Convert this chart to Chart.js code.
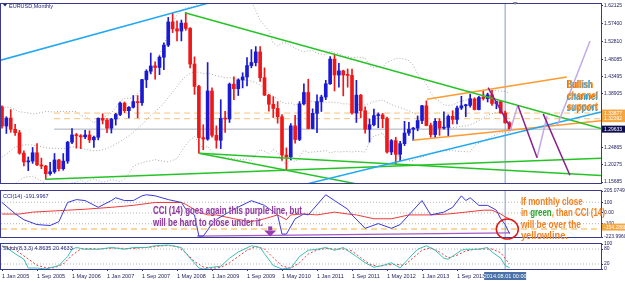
<!DOCTYPE html>
<html>
<head>
<meta charset="utf-8">
<script src="https://cdn.jsdelivr.net/npm/chart.js@4.4.0/dist/chart.umd.min.js"></script>
<style>
html, body { margin: 0; padding: 0; background: #fff; }
#wrap { position: relative; width: 625px; height: 282px; overflow: hidden; background: #fff; }
#wrap canvas { position: absolute; left: 0; }
</style>
</head>
<body>
<div id="wrap">
  <canvas id="priceChart" width="625" height="187" style="top:0"></canvas>
  <canvas id="cciChart" width="625" height="55" style="top:187px"></canvas>
  <canvas id="stochChart" width="625" height="42" style="top:240px"></canvas>
</div>
<script>
// monthly EURUSD, index 0 = Jan 2005 ... 116 = Sep 2014
const opens = [1.3554,1.3045,1.3255,1.2960,1.2870,1.2330,1.2100,1.2120,1.2340,1.2020,1.1990,1.1790,
  1.1840,1.2150,1.1920,1.2120,1.2620,1.2810,1.2790,1.2760,1.2810,1.2680,1.2750,1.3250,
  1.3200,1.2990,1.3230,1.3350,1.3650,1.3450,1.3540,1.3690,1.3660,1.4270,1.4490,1.4630,
  1.4590,1.4860,1.5180,1.5790,1.5610,1.5550,1.5760,1.5620,1.4680,1.4090,1.2740,1.2700,
  1.3970,1.2800,1.2670,1.3250,1.3230,1.4150,1.4030,1.4260,1.4340,1.4640,1.4720,1.5000,
  1.4320,1.3860,1.3620,1.3510,1.3290,1.2280,1.2230,1.3050,1.2690,1.3630,1.3930,1.2980,
  1.3380,1.3690,1.3810,1.4160,1.4810,1.4390,1.4500,1.4390,1.4380,1.3390,1.3860,1.3450,
  1.2960,1.3080,1.3320,1.3340,1.3240,1.2360,1.2660,1.2300,1.2580,1.2860,1.2960,1.2990,
  1.3190,1.3580,1.3060,1.2820,1.3170,1.2990,1.3010,1.3300,1.3220,1.3520,1.3580,1.3590,
  1.3760,1.3480,1.3800,1.3770,1.3870,1.3640,1.3690,1.3390,1.3130];
const highs = [1.3580,1.3290,1.3480,1.3090,1.2930,1.2390,1.2230,1.2480,1.2580,1.2200,1.2010,1.2090,
  1.2320,1.2170,1.2320,1.2640,1.2980,1.2850,1.2820,1.2930,1.2920,1.2780,1.3260,1.3370,
  1.3240,1.3250,1.3380,1.3680,1.3680,1.3560,1.3850,1.3850,1.4280,1.4530,1.4970,1.4740,
  1.4900,1.5240,1.5910,1.6020,1.5820,1.5840,1.6040,1.5640,1.4870,1.4120,1.3080,1.4720,
  1.4050,1.3050,1.3740,1.3430,1.4180,1.4340,1.4290,1.4450,1.4850,1.5060,1.5140,1.5140,
  1.4580,1.3880,1.3820,1.3690,1.3350,1.2470,1.3110,1.3330,1.3690,1.4160,1.4280,1.3500,
  1.3870,1.3860,1.4250,1.4880,1.4940,1.4700,1.4520,1.4550,1.4550,1.4250,1.3880,1.3550,
  1.3230,1.3490,1.3390,1.3380,1.3280,1.2690,1.2750,1.2640,1.3170,1.3140,1.3010,1.3310,
  1.3590,1.3710,1.3120,1.3240,1.3240,1.3420,1.3340,1.3450,1.3570,1.3830,1.3620,1.3890,
  1.3790,1.3830,1.3970,1.3910,1.3990,1.3700,1.3700,1.3440,1.3160];
const lows = [1.2990,1.2850,1.2880,1.2800,1.2300,1.1990,1.1870,1.2060,1.2000,1.1920,1.1640,1.1750,
  1.1800,1.1860,1.1880,1.2060,1.2580,1.2460,1.2450,1.2710,1.2610,1.2480,1.2680,1.3100,
  1.2870,1.2860,1.3070,1.3320,1.3400,1.3260,1.3520,1.3260,1.3590,1.4060,1.4420,1.4280,
  1.4400,1.4530,1.5140,1.5510,1.5290,1.5290,1.5570,1.4580,1.3880,1.2330,1.2420,1.2670,
  1.2750,1.2460,1.2450,1.2880,1.3140,1.3740,1.3850,1.4050,1.4100,1.4580,1.4630,1.4220,
  1.3850,1.3440,1.3270,1.3120,1.2140,1.1880,1.2150,1.2590,1.2660,1.3600,1.2970,1.2970,
  1.2870,1.3430,1.3740,1.4140,1.3970,1.4070,1.3840,1.4070,1.3360,1.3140,1.3260,1.2860,
  1.2620,1.3050,1.3000,1.3000,1.2330,1.2290,1.2040,1.2130,1.2530,1.2800,1.2660,1.2920,
  1.3110,1.3050,1.2750,1.2740,1.2800,1.2960,1.2760,1.3100,1.3100,1.3480,1.3290,1.3540,
  1.3470,1.3470,1.3730,1.3680,1.3590,1.3500,1.3380,1.3120,1.2920];
const closes = [1.3045,1.3255,1.2960,1.2870,1.2330,1.2100,1.2120,1.2340,1.2020,1.1990,1.1790,1.1840,
  1.2150,1.1920,1.2120,1.2620,1.2810,1.2790,1.2760,1.2810,1.2680,1.2750,1.3250,1.3200,
  1.2990,1.3230,1.3350,1.3650,1.3450,1.3540,1.3690,1.3660,1.4270,1.4490,1.4630,1.4590,
  1.4860,1.5180,1.5790,1.5610,1.5550,1.5760,1.5620,1.4680,1.4090,1.2740,1.2700,1.3970,
  1.2800,1.2670,1.3250,1.3230,1.4150,1.4030,1.4260,1.4340,1.4640,1.4720,1.5000,1.4320,
  1.3860,1.3620,1.3510,1.3290,1.2280,1.2230,1.3050,1.2690,1.3630,1.3930,1.2980,1.3380,
  1.3690,1.3810,1.4160,1.4810,1.4390,1.4500,1.4390,1.4380,1.3390,1.3860,1.3450,1.2960,
  1.3080,1.3320,1.3340,1.3240,1.2360,1.2660,1.2300,1.2580,1.2860,1.2960,1.2990,1.3190,
  1.3580,1.3060,1.2820,1.3170,1.2990,1.3010,1.3300,1.3220,1.3520,1.3580,1.3590,1.3760,
  1.3480,1.3800,1.3770,1.3870,1.3640,1.3690,1.3390,1.3130,1.2963];

// dotted bands
const bandUpper = [1.349,1.355,1.353,1.347,1.342,1.341,1.339,1.336,1.338,1.340,1.343,1.342,
  1.342,1.343,1.343,1.343,1.343,1.343,1.331,1.331,1.322,1.313,1.320,1.328,
  1.331,1.339,1.353,1.370,1.377,1.378,1.378,1.390,1.408,1.430,1.453,1.470,
  1.493,1.518,1.550,1.575,1.598,1.610,1.616,1.618,1.620,1.632,1.640,1.638,
  1.645,1.648,1.646,1.645,1.643,1.641,1.639,1.636,1.634,1.633,1.609,1.583,
  1.570,1.556,1.523,1.516,1.523,1.524,1.516,1.510,1.504,1.500,1.503,1.503,
  1.497,1.494,1.492,1.502,1.497,1.496,1.488,1.489,1.485,1.486,1.485,1.484,
  1.464,1.459,1.461,1.459,1.473,1.477,1.483,1.483,1.481,1.477,1.465,1.441,
  1.431,1.414,1.392,1.376,1.370,1.360,1.359,1.360,1.366,1.370,1.373,1.379,
  1.373,1.379,1.386,1.393,1.397,1.398,1.396,1.396,1.391];
const bandMiddle = [1.222,1.231,1.239,1.249,1.252,1.255,1.255,1.254,1.252,1.250,1.247,1.246,
  1.246,1.245,1.245,1.247,1.249,1.250,1.247,1.243,1.241,1.239,1.240,1.242,
  1.245,1.251,1.257,1.264,1.271,1.279,1.288,1.297,1.308,1.321,1.333,1.343,
  1.353,1.365,1.380,1.394,1.409,1.424,1.436,1.443,1.448,1.446,1.443,1.444,
  1.441,1.437,1.435,1.432,1.432,1.430,1.428,1.426,1.425,1.423,1.419,1.413,
  1.404,1.393,1.383,1.376,1.367,1.364,1.366,1.360,1.364,1.370,1.369,1.370,
  1.367,1.366,1.366,1.368,1.367,1.366,1.363,1.363,1.361,1.362,1.361,1.360,
  1.364,1.369,1.371,1.373,1.367,1.361,1.357,1.353,1.349,1.345,1.339,1.331,
  1.327,1.320,1.312,1.306,1.304,1.300,1.299,1.300,1.302,1.304,1.305,1.308,
  1.313,1.319,1.326,1.333,1.337,1.340,1.342,1.342,1.339];
const bandLower = [1.095,1.107,1.125,1.151,1.162,1.169,1.171,1.172,1.166,1.160,1.151,1.150,
  1.150,1.147,1.147,1.151,1.155,1.156,1.163,1.155,1.161,1.165,1.160,1.156,
  1.159,1.163,1.161,1.158,1.165,1.179,1.198,1.204,1.208,1.211,1.213,1.216,
  1.213,1.212,1.210,1.214,1.219,1.237,1.255,1.268,1.277,1.260,1.245,1.251,
  1.237,1.225,1.223,1.220,1.221,1.218,1.216,1.217,1.217,1.213,1.229,1.242,
  1.238,1.231,1.243,1.236,1.211,1.204,1.216,1.210,1.224,1.240,1.235,1.236,
  1.237,1.238,1.240,1.234,1.237,1.236,1.237,1.237,1.236,1.238,1.237,1.236,
  1.264,1.279,1.281,1.287,1.261,1.245,1.231,1.223,1.217,1.213,1.213,1.221,
  1.223,1.226,1.232,1.236,1.238,1.240,1.239,1.240,1.238,1.237,1.237,1.236,
  1.253,1.259,1.266,1.272,1.276,1.282,1.288,1.288,1.287];

// drawn objects: [month, price] end points
const cyanUpper = [[-0.46, 1.4776], [50, 1.6378]];
const cyanLower = [[67, 1.1443], [136.9, 1.3416]];
const greenTop = [[41.8, 1.6033], [136.9, 1.2980]];
const greenMid = [[45, 1.2330], [136.9, 1.1738]];
const greenSteep = [[45, 1.2330], [85, 1.1430]];
const greenLow = [[10, 1.1640], [136.9, 1.2194]];
const orangeUpper = [[97.1, 1.3749], [129.1, 1.4340]];
const orangeLower = [[93.9, 1.2672], [136.9, 1.3185]];
const levelLines = [1.33877, 1.32392];
const bidPrice = 1.29633;
const levelStart = 11.9;
const zigDark = [[[111.1, 1.4057], [116.1, 1.3031]], [[117.9, 1.3596], [122.3, 1.2210]], [[123.7, 1.3365], [129.8, 1.1748]]];
const zigLight = [[[116.1, 1.2903], [117.9, 1.3596]], [[122.3, 1.2210], [124.6, 1.3313]], [[126.9, 1.3057], [134.4, 1.5289]]];
const cursorMonth = 115;

// indicator readings [month], [value]
const cciBlueM = [0,3,5,8,11,13,15,17,19,22,25,26,28,30,32,33,35,38,41,42,44,45,46,47,48,49,53,57,60,63,64,65,67,69,70,74,76,79,80,83,86,89,91,93,96,98,101,103,105,106,107,109,111,113,114,115,116];
const cciBlueV = [98,-7,-63,-108,-117,-81,98,125,116,53,116,142,116,116,160,170,160,125,98,36,-18,-215,-215,-160,-100,-60,35,115,71,-18,-197,-197,-54,-9,-18,170,116,36,-18,-143,-99,-143,-108,-18,116,-18,8,53,160,116,142,71,71,26,-54,-108,-192];
const cciRedM = [0,4,7,15,19,25,30,35,41,42,45,47,49,53,57,60,63,65,66,69,72,76,79,81,85,89,91,93,95,98,102,106,110,112,114,115,116];
const cciRedV = [-10,-10,8,26,35,53,71,98,98,80,8,-18,-18,-54,-81,-54,-18,-63,-18,-9,-18,8,-9,-18,-54,-54,-36,-18,-18,-18,-9,8,26,26,-9,-36,-54];
const cciPurple = [[44.6, -215], [116.1, -185]];
const cciYellow = -150;
const cciLevels = [100, 0, -100];

const stochMainM = [0,1,3,5,6,8,10,13,15,16,17,19,22,25,28,30,33,35,38,41,43,45,46,48,50,52,54,57,59,60,62,64,66,68,70,72,74,76,78,81,83,85,87,89,91,93,95,97,99,101,102,105,106,109,111,112,114,115,116];
const stochMainV = [93,86,61,39,4,4,0,14,50,79,86,79,79,86,79,86,86,93,96,86,43,4,0,7,11,43,68,93,86,61,14,0,4,50,75,79,86,75,86,50,25,7,14,25,4,43,79,93,75,43,39,75,79,79,86,68,43,14,5];
const stochSigM = [0,2,4,6,8,10,12,14,16,18,20,22,24,26,28,30,32,34,36,38,40,42,44,46,48,50,52,54,56,58,60,62,64,66,68,70,72,74,76,78,80,82,84,86,88,90,92,94,96,98,100,102,104,106,108,110,112,114,116];
const stochSigV = [90,88,65,40,15,5,5,20,55,80,82,80,82,84,82,82,85,87,92,94,90,65,30,8,3,6,25,50,75,90,80,45,12,3,25,60,76,82,80,80,72,45,20,10,17,18,15,45,75,85,68,45,55,72,79,80,80,65,20];

// axis labels
const priceTicks = ['1.62125','1.57400','1.52810','1.48085','1.43495','1.38905','1.24865','1.20275','1.15685'];
const cciTicks = ['205.0749','100','0.00','-100','-223.9960'];
const stochTicks = ['100','80','20','0'];
const timeTickMonths = [0,8,16,24,32,40,48,56,64,72,80,88,96,104];
const timeTickLabels = ['1 Jan 2005','1 Sep 2005','1 May 2006','1 Jan 2007','1 Sep 2007','1 May 2008','1 Jan 2009','1 Sep 2009','1 May 2010','1 Jan 2011','1 Sep 2011','1 May 2012','1 Jan 2013','1 Sep 2013'];

const X_MIN = -0.23, X_MAX = 136.91;
const NAVY = '#2a2a7e';
const AXIS_FONT = { family: 'Liberation Sans', size: 5.5 };

function seg(pts, color, width, dash, order) {
  return {
    type: 'line',
    data: pts.map(p => ({ x: p[0], y: p[1] })),
    borderColor: color, borderWidth: width, borderDash: dash || [],
    pointRadius: 0, fill: false, tension: 0, order: order
  };
}
function series(ms, vs, color, width, dash, order) {
  return seg(ms.map((m, i) => [m, vs[i]]), color, width, dash, order);
}

function xScale(showTicks) {
  const s = { type: 'linear', min: X_MIN, max: X_MAX, offset: false, display: showTicks,
    grid: { drawOnChartArea: false, drawTicks: true, tickLength: 2, color: NAVY },
    border: { color: NAVY } };
  if (showTicks) {
    s.afterBuildTicks = sc => { sc.ticks = timeTickMonths.map(v => ({ value: v })); };
    s.afterFit = sc => { sc.height = 13; };
    s.ticks = { autoSkip: false, maxRotation: 0, align: 'start', padding: 2, color: '#1c1c5c', font: AXIS_FONT,
      callback: (v) => timeTickLabels[timeTickMonths.indexOf(v)] };
  }
  return s;
}
function yScale(min, max, labels) {
  return {
    type: 'linear', position: 'right', min: min, max: max,
    afterFit: sc => { sc.width = 24; },
    afterBuildTicks: sc => { sc.ticks = labels.map(t => ({ value: parseFloat(t) })); },
    grid: { drawOnChartArea: false, drawTicks: true, tickLength: 2, color: NAVY },
    border: { color: NAVY },
    ticks: { autoSkip: false, padding: 1, color: '#1c1c5c', font: { family: 'Liberation Sans', size: 5 },
      callback: (v) => labels.find(t => parseFloat(t) === v) }
  };
}

const framePlugin = {
  id: 'frame',
  afterDraw(chart) {
    const { ctx, chartArea: a } = chart;
    ctx.save();
    ctx.strokeStyle = '#3a3a8c';
    ctx.lineWidth = 1;
    ctx.strokeRect(a.left - 0.5, a.top - 0.5, a.right - a.left + 1, a.bottom - a.top + 1);
    ctx.restore();
  }
};

// squeeze text parts to a given width, like the narrow bold font of the original
function squeezed(ctx, parts, x, y, width, font) {
  ctx.save();
  ctx.font = font;
  const full = parts.map(p => p[0]).join('');
  const w = ctx.measureText(full).width;
  ctx.translate(x, y);
  ctx.scale(width / w, 1);
  let cx = 0;
  parts.forEach(p => {
    ctx.fillStyle = p[1];
    ctx.fillText(p[0], cx, 0);
    cx += ctx.measureText(p[0]).width;
  });
  ctx.restore();
}

function axisBox(ctx, chart, y, text, bg) {
  const a = chart.chartArea;
  ctx.save();
  ctx.fillStyle = bg;
  ctx.fillRect(a.right + 1, y - 3.5, 24, 7);
  ctx.fillStyle = '#fff';
  ctx.font = '5px "Liberation Sans"';
  ctx.textBaseline = 'middle';
  ctx.fillText(text, a.right + 3, y + 0.3);
  ctx.restore();
}

const wicks = highs.map((h, i) => ({ x: i, y: [lows[i], h] }));
const bodies = opens.map((o, i) => ({ x: i, y: [o, closes[i]] }));
const barColors = opens.map((o, i) => closes[i] >= o ? '#1a1ad2' : '#ee1818');

const common = { responsive: false, animation: false, events: [],
  plugins: { legend: { display: false }, tooltip: { enabled: false } } };

// ---- price panel ----
new Chart(document.getElementById('priceChart'), {
  type: 'bar',
  data: {
    datasets: [
      series(bandUpper.map((v, i) => i), bandUpper, '#a9a9a9', 1, [1, 2], 20),
      series(bandMiddle.map((v, i) => i), bandMiddle, '#a9a9a9', 1, [1, 2], 20),
      series(bandLower.map((v, i) => i), bandLower, '#a9a9a9', 1, [1, 2], 20),
      seg([[levelStart, levelLines[0]], [X_MAX, levelLines[0]]], '#f6c27e', 1, [6, 4], 19),
      seg([[levelStart, levelLines[1]], [X_MAX, levelLines[1]]], '#f6c27e', 1, [6, 4], 19),
      seg([[levelStart, bidPrice], [X_MAX, bidPrice]], '#a4afbc', 1, [], 19),
      seg([[cursorMonth, 1.1], [cursorMonth, 1.7]], '#7d9ec8', 1, [], 18),
      { type: 'bar', data: wicks, backgroundColor: barColors, barThickness: 1, grouped: false, order: 11 },
      { type: 'bar', data: bodies, backgroundColor: barColors, barThickness: 3, grouped: false, order: 10, minBarLength: 1 },
      seg(cyanUpper, '#22a8f2', 1.5, [], 3),
      seg(cyanLower, '#22a8f2', 1.5, [], 3),
      seg(greenTop, '#26c326', 1.5, [], 3),
      seg(greenMid, '#26c326', 1.5, [], 3),
      seg(greenSteep, '#26c326', 1.5, [], 3),
      seg(greenLow, '#26c326', 1.5, [], 3),
      seg(orangeUpper, '#ff9b30', 1.5, [], 3),
      seg(orangeLower, '#ff9b30', 1.5, [], 3),
      ...zigDark.map(z => seg(z, '#8a1f8a', 1.5, [], 2)),
      ...zigLight.map(z => seg(z, '#c2a8e6', 1.5, [], 2))
    ]
  },
  options: {
    ...common,
    layout: { padding: { left: 1, top: 2, right: 0, bottom: 1 } },
    scales: { x: xScale(false), y: yScale(1.15428, 1.62638, priceTicks) }
  },
  plugins: [framePlugin, {
    id: 'priceNotes',
    afterDraw(chart) {
      const { ctx } = chart;
      const x = chart.scales.x, y = chart.scales.y;
      // title
      ctx.save();
      ctx.fillStyle = '#1c1c7a';
      ctx.beginPath(); ctx.moveTo(3, 4); ctx.lineTo(7, 4); ctx.lineTo(5, 6.5); ctx.closePath(); ctx.fill();
      ctx.font = '5.5px "Liberation Sans"';
      ctx.fillText('EURUSD,Monthly', 9, 8);
      // shift marker
      ctx.fillStyle = '#8a8a8a';
      const sx = x.getPixelForValue(117.3);
      ctx.beginPath(); ctx.moveTo(sx - 2.5, 2); ctx.lineTo(sx + 2.5, 2); ctx.lineTo(sx, 5); ctx.closePath(); ctx.fill();
      ctx.restore();
      // axis boxes
      axisBox(ctx, chart, y.getPixelForValue(levelLines[0]), levelLines[0].toFixed(5), '#f4a640');
      axisBox(ctx, chart, y.getPixelForValue(levelLines[1]), levelLines[1].toFixed(5), '#f4a640');
      axisBox(ctx, chart, y.getPixelForValue(bidPrice), bidPrice.toFixed(5), '#0c0c4e');
      // note
      const nx = x.getPixelForValue(129.2);
      const font = 'bold 11px "Liberation Sans"';
      [['Bullish', 1.4057, 26], ['channel', 1.3749, 31], ['support', 1.3467, 31]].forEach(t => {
        const ny = y.getPixelForValue(t[1]);
        squeezed(ctx, [[t[0], '#2a9ed8']], nx - 0.8, ny + 0.8, t[2], font);
        squeezed(ctx, [[t[0], '#ff8a1c']], nx, ny, t[2], font);
      });
    }
  }]
});

// ---- CCI panel ----
new Chart(document.getElementById('cciChart'), {
  type: 'line',
  data: {
    datasets: [
      ...cciLevels.map(l => seg([[X_MIN, l], [X_MAX, l]], '#b4b4b4', 1, [1, 2], 20)),
      seg([[X_MIN, cciYellow], [X_MAX, cciYellow]], '#f8c880', 1.5, [6, 4], 19),
      seg([[cursorMonth, -300], [cursorMonth, 300]], '#7d9ec8', 1, [], 18),
      seg(cciPurple, '#a65cc0', 1.2, [], 5),
      series(cciRedM, cciRedV, '#f03a3a', 1, [], 4),
      series(cciBlueM, cciBlueV, '#3a3adc', 1, [], 3)
    ]
  },
  options: {
    ...common,
    layout: { padding: { left: 1, top: 1, right: 0, bottom: 5 } },
    scales: { x: xScale(false), y: yScale(-223.996, 205.0749, cciTicks) }
  },
  plugins: [framePlugin, {
    id: 'cciNotes',
    afterDraw(chart) {
      const { ctx, chartArea: a } = chart;
      const x = chart.scales.x, y = chart.scales.y;
      ctx.save();
      ctx.fillStyle = '#1c1c7a';
      ctx.font = '5.5px "Liberation Sans"';
      ctx.fillText('CCI(14) -191.9967', 3, a.top + 7);
      ctx.restore();
      axisBox(ctx, chart, y.getPixelForValue(cciYellow) - 2, '-154.2888', '#f4a640');

      const font = 'bold 10px "Liberation Sans"';
      const px = x.getPixelForValue(34.5);
      ctx.save();
      ctx.shadowColor = 'rgba(230,210,240,0.9)';
      ctx.shadowBlur = 1.5;
      squeezed(ctx, [['CCI (14) goes again this purple line, but', '#8e3a9c']], px, a.top + 23, 149, font);
      squeezed(ctx, [['will be hard to close under it.', '#8e3a9c']], px, a.top + 35, 110, font);
      ctx.restore();

      const ox = x.getPixelForValue(118.6);
      const orange = '#f5801e';
      squeezed(ctx, [['If monthly close', orange]], ox, a.top + 14, 62, font);
      squeezed(ctx, [['in ', orange], ['green', '#28a428'], [', than CCI (14)', orange]], ox, a.top + 25, 84, font);
      squeezed(ctx, [['will be over the', orange]], ox, a.top + 37, 60, font);
      squeezed(ctx, [['yellowline.', orange]], ox, a.top + 48, 47, font);

      // circle around the last reading
      ctx.save();
      ctx.strokeStyle = '#e01818';
      ctx.lineWidth = 1.5;
      ctx.beginPath();
      ctx.ellipse(x.getPixelForValue(115.5), y.getPixelForValue(-150), 11, 10, 0, 0, Math.PI * 2);
      ctx.stroke();
      // arrow pointing at the purple line
      const ax = x.getPixelForValue(61.3), ay = y.getPixelForValue(-125);
      ctx.fillStyle = '#9a3fae';
      ctx.fillRect(ax - 2, ay, 4, 4);
      ctx.beginPath(); ctx.moveTo(ax - 6, ay + 4); ctx.lineTo(ax + 6, ay + 4); ctx.lineTo(ax, ay + 10); ctx.closePath(); ctx.fill();
      ctx.restore();
    }
  }]
});

// ---- Stochastic panel ----
new Chart(document.getElementById('stochChart'), {
  type: 'line',
  data: {
    datasets: [
      ...[80, 20].map(l => seg([[X_MIN, l], [X_MAX, l]], '#b4b4b4', 1, [1, 2], 20)),
      seg([[cursorMonth, -10], [cursorMonth, 110]], '#7d9ec8', 1, [], 18),
      series(stochSigM, stochSigV, '#f03a3a', 1, [2, 2], 4),
      series(stochMainM, stochMainV, '#3cc0b4', 1, [], 3)
    ]
  },
  options: {
    ...common,
    layout: { padding: { left: 1, top: 1, right: 0, bottom: 0 } },
    scales: { x: xScale(true), y: yScale(0, 100, stochTicks) }
  },
  plugins: [framePlugin, {
    id: 'stochNotes',
    afterDraw(chart) {
      const { ctx, chartArea: a } = chart;
      const x = chart.scales.x;
      ctx.save();
      ctx.fillStyle = '#1c1c7a';
      ctx.font = '5.5px "Liberation Sans"';
      ctx.fillText('Stoch(8,3,3) 4.8635 20.4633', 3, a.top + 6);
      const cx = x.getPixelForValue(cursorMonth);
      ctx.fillStyle = '#4a70a8';
      ctx.fillRect(cx - 21, a.bottom + 3, 42, 8);
      ctx.fillStyle = '#fff';
      ctx.textAlign = 'center';
      ctx.fillText('2014.08.01 00:00', cx, a.bottom + 9);
      ctx.restore();
    }
  }]
});
</script>
</body>
</html>
